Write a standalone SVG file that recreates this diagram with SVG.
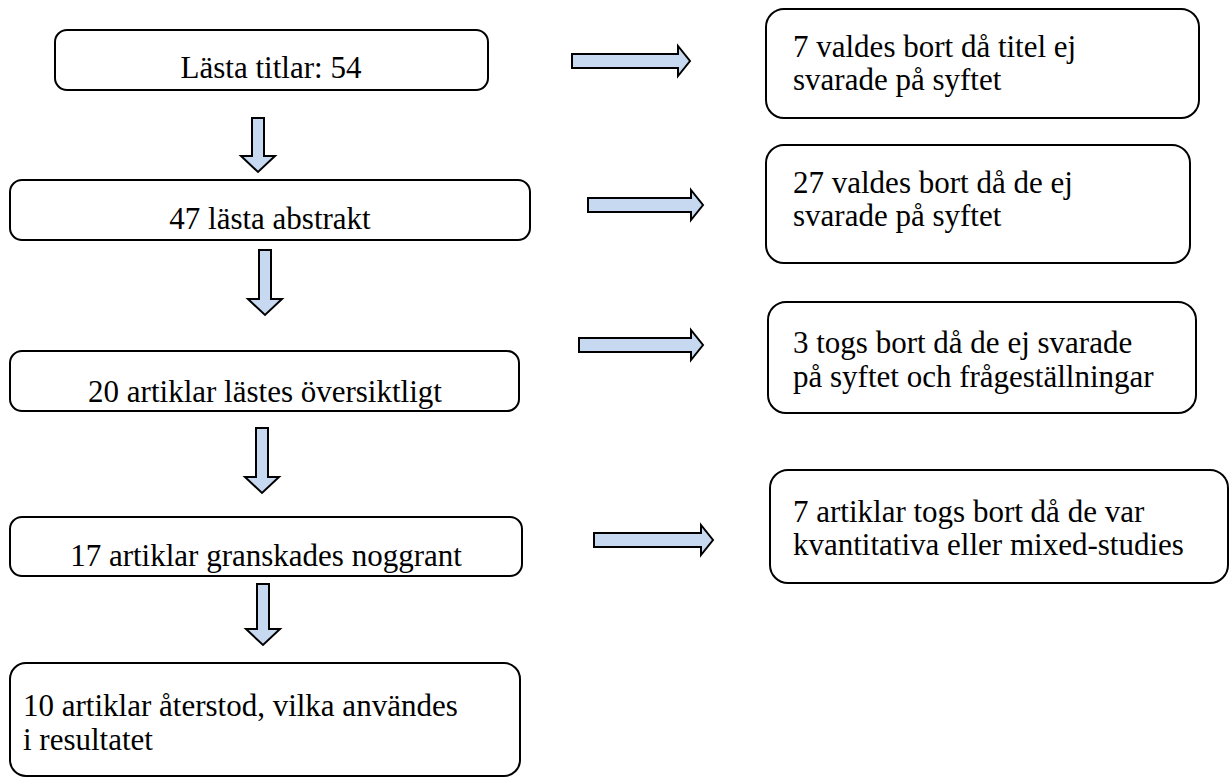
<svg xmlns="http://www.w3.org/2000/svg" width="1230" height="778" viewBox="0 0 1230 778">
<style>
.box{fill:#fff;stroke:#000;stroke-width:2}
.arr{fill:#c6d9f1;stroke:#000;stroke-width:2;stroke-linejoin:miter}
.t{font-family:'Liberation Serif','Times New Roman','DejaVu Serif',serif;font-size:31px;fill:#000}
.c{text-anchor:middle}
</style>
<rect width="1230" height="778" fill="#fff"/>
<g id="connectors">
<path class="arr" d="M572,54 H678 V46 L690,61 L678,76 V68 H572 Z"/>
<path class="arr" d="M588,198 H691 V190 L703,205 L691,220 V212 H588 Z"/>
<path class="arr" d="M579,338 H691 V330 L703,345 L691,360 V352 H579 Z"/>
<path class="arr" d="M594,533 H701 V525 L713,540 L701,555 V547 H594 Z"/>
<path class="arr" d="M252,118 H264 V156 H275 L258,172 L241,156 H252 Z"/>
<path class="arr" d="M259,250 H271 V299 H282 L265,315 L248,299 H259 Z"/>
<path class="arr" d="M256,428 H268 V477 H279 L262,493 L245,477 H256 Z"/>
<path class="arr" d="M257,584 H269 V629 H280 L263,645 L246,629 H257 Z"/>
</g>
<g class="t">
<g id="n1"><rect class="box" x="55" y="30" width="433" height="60" rx="12"/><text class="c" x="271" y="78">Lästa titlar: 54</text></g>
<g id="n2"><rect class="box" x="10" y="180" width="520" height="60" rx="12"/><text class="c" x="270" y="229">47 lästa abstrakt</text></g>
<g id="n3"><rect class="box" x="10" y="351" width="509" height="60" rx="12"/><text class="c" x="265" y="402">20 artiklar lästes översiktligt</text></g>
<g id="n4"><rect class="box" x="10" y="517" width="512" height="59" rx="12"/><text class="c" x="266" y="566">17 artiklar granskades noggrant</text></g>
<g id="n5"><rect class="box" x="10" y="663" width="510" height="113" rx="16"/><text x="23" y="716">10 artiklar återstod, vilka användes</text><text x="23" y="750">i resultatet</text></g>
<g id="r1"><rect class="box" x="766" y="9" width="433" height="109" rx="18"/><text x="793" y="57">7 valdes bort då titel ej</text><text x="793" y="90">svarade på syftet</text></g>
<g id="r2"><rect class="box" x="766" y="145" width="424" height="118" rx="18"/><text x="793" y="193">27 valdes bort då de ej</text><text x="793" y="226">svarade på syftet</text></g>
<g id="r3"><rect class="box" x="768" y="302" width="428" height="111" rx="18"/><text x="793" y="353">3 togs bort då de ej svarade</text><text x="793" y="387">på syftet och frågeställningar</text></g>
<g id="r4"><rect class="box" x="770" y="470" width="458" height="113" rx="18"/><text x="793" y="522">7 artiklar togs bort då de var</text><text x="793" y="555">kvantitativa eller mixed-studies</text></g>
</g>
</svg>
